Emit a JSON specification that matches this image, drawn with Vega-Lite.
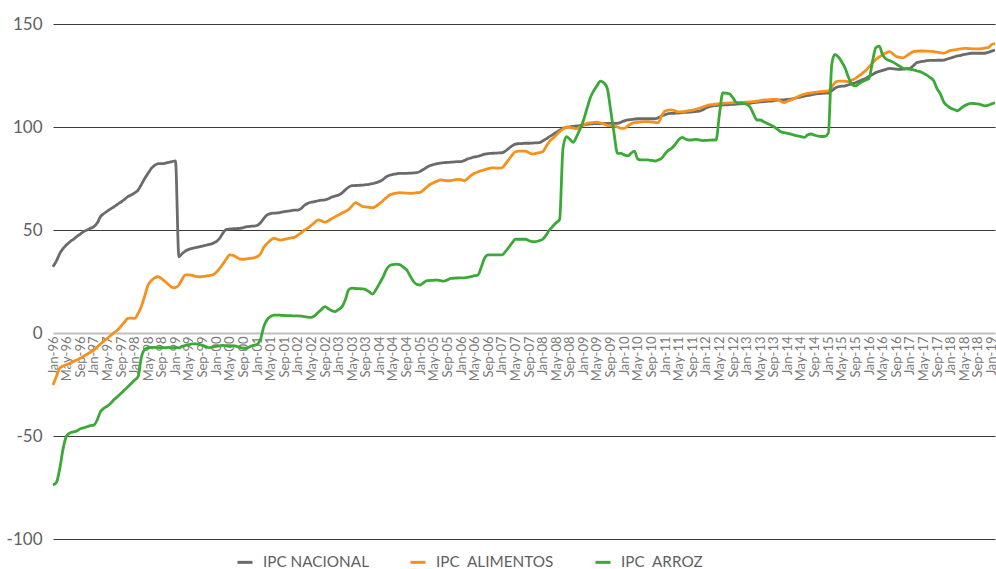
{
"$schema": "https://vega.github.io/schema/vega-lite/v6.json",
"width": 942, "height": 515,
"autosize": {"type": "none"},
"padding": {"left": 53, "top": 24, "right": 1, "bottom": 30},
"background": "white",
"config": {"view": {"stroke": null}, "font": "Lato"},
"datasets": {"ipc": [
{"d":"1996-01","n":32.2,"a":-25.2,"r":-73.8},{"d":"1996-02","n":35,"a":-21,"r":-72.5},{"d":"1996-03","n":38.5,"a":-17.1,"r":-66},{"d":"1996-04","n":41.1,"a":-16,"r":-56},{"d":"1996-05","n":42.8,"a":-15.3,"r":-50},{"d":"1996-06","n":44.3,"a":-14.7,"r":-48.5},{"d":"1996-07","n":45.5,"a":-13.9,"r":-48},{"d":"1996-08","n":46.8,"a":-13.1,"r":-47.5},{"d":"1996-09","n":48,"a":-12.3,"r":-46.5},{"d":"1996-10","n":49.2,"a":-11.3,"r":-46},{"d":"1996-11","n":50,"a":-10.3,"r":-45.5},{"d":"1996-12","n":50.8,"a":-9.3,"r":-45},
{"d":"1997-01","n":51.6,"a":-8.3,"r":-44.7},{"d":"1997-02","n":53.5,"a":-6.8,"r":-42},{"d":"1997-03","n":56.5,"a":-5.3,"r":-38.2},{"d":"1997-04","n":58,"a":-3.9,"r":-36.5},{"d":"1997-05","n":59.2,"a":-2.6,"r":-35.5},{"d":"1997-06","n":60.3,"a":-1.2,"r":-34.1},{"d":"1997-07","n":61.3,"a":0.2,"r":-32.3},{"d":"1997-08","n":62.5,"a":1.5,"r":-30.9},{"d":"1997-09","n":63.6,"a":3.3,"r":-29.3},{"d":"1997-10","n":64.8,"a":5.2,"r":-27.7},{"d":"1997-11","n":66.2,"a":7.1,"r":-26.1},{"d":"1997-12","n":67,"a":7.2,"r":-24.5},
{"d":"1998-01","n":68,"a":7.1,"r":-22.8},{"d":"1998-02","n":69.4,"a":9.5,"r":-21.2},{"d":"1998-03","n":72,"a":12.8,"r":-12},{"d":"1998-04","n":75,"a":18,"r":-8},{"d":"1998-05","n":77.5,"a":23.3,"r":-7.2},{"d":"1998-06","n":80,"a":25.5,"r":-7},{"d":"1998-07","n":81.5,"a":26.8,"r":-7},{"d":"1998-08","n":82.2,"a":27.3,"r":-7.1},{"d":"1998-09","n":82.2,"a":26.3,"r":-7.2},{"d":"1998-10","n":82.4,"a":25,"r":-7.1},{"d":"1998-11","n":82.8,"a":23.5,"r":-7},{"d":"1998-12","n":83.2,"a":22.2,"r":-7.2},
{"d":"1999-01","n":83.6,"a":22,"r":-7.1},{"d":"1999-02","n":37,"a":23.3,"r":-7.2},{"d":"1999-03","n":38.5,"a":26,"r":-6.5},{"d":"1999-04","n":39.8,"a":28.2,"r":-6},{"d":"1999-05","n":40.6,"a":28.2,"r":-5.6},{"d":"1999-06","n":41.1,"a":28,"r":-5.3},{"d":"1999-07","n":41.4,"a":27.5,"r":-5.3},{"d":"1999-08","n":41.8,"a":27.3,"r":-5.5},{"d":"1999-09","n":42.2,"a":27.4,"r":-6},{"d":"1999-10","n":42.6,"a":27.6,"r":-6.6},{"d":"1999-11","n":43,"a":27.9,"r":-7.1},{"d":"1999-12","n":43.5,"a":28.2,"r":-6.8},
{"d":"2000-01","n":44.3,"a":29.5,"r":-6.5},{"d":"2000-02","n":46,"a":31.4,"r":-6.2},{"d":"2000-03","n":48.5,"a":33.5,"r":-6},{"d":"2000-04","n":50.3,"a":36,"r":-6.3},{"d":"2000-05","n":50.5,"a":37.9,"r":-6.6},{"d":"2000-06","n":50.6,"a":37.7,"r":-6.2},{"d":"2000-07","n":50.7,"a":36.8,"r":-6.5},{"d":"2000-08","n":50.8,"a":35.9,"r":-7},{"d":"2000-09","n":51.2,"a":35.8,"r":-7.4},{"d":"2000-10","n":51.6,"a":36,"r":-7.4},{"d":"2000-11","n":51.8,"a":36.2,"r":-6.5},{"d":"2000-12","n":51.9,"a":36.5,"r":-6},
{"d":"2001-01","n":52.2,"a":37,"r":-5.5},{"d":"2001-02","n":53.5,"a":38.5,"r":-3},{"d":"2001-03","n":55.5,"a":41.5,"r":3},{"d":"2001-04","n":57.3,"a":43.5,"r":6.5},{"d":"2001-05","n":58,"a":45,"r":8},{"d":"2001-06","n":58.2,"a":46,"r":8.7},{"d":"2001-07","n":58.3,"a":45.5,"r":8.7},{"d":"2001-08","n":58.6,"a":45.1,"r":8.6},{"d":"2001-09","n":58.9,"a":45.4,"r":8.5},{"d":"2001-10","n":59.2,"a":45.8,"r":8.4},{"d":"2001-11","n":59.4,"a":46.2,"r":8.4},{"d":"2001-12","n":59.6,"a":46.4,"r":8.3},
{"d":"2002-01","n":59.7,"a":47.5,"r":8.3},{"d":"2002-02","n":60.5,"a":48.7,"r":8.2},{"d":"2002-03","n":62,"a":50,"r":8},{"d":"2002-04","n":63,"a":51,"r":7.7},{"d":"2002-05","n":63.5,"a":52.3,"r":7.6},{"d":"2002-06","n":63.8,"a":53.7,"r":8.4},{"d":"2002-07","n":64.2,"a":54.9,"r":10},{"d":"2002-08","n":64.5,"a":54.4,"r":11.5},{"d":"2002-09","n":64.6,"a":53.8,"r":12.8},{"d":"2002-10","n":65.2,"a":54.5,"r":11.8},{"d":"2002-11","n":66,"a":55.5,"r":10.8},{"d":"2002-12","n":66.5,"a":56.5,"r":10.4},
{"d":"2003-01","n":67,"a":57.3,"r":11.5},{"d":"2003-02","n":68,"a":58.2,"r":12.8},{"d":"2003-03","n":69.5,"a":59,"r":16},{"d":"2003-04","n":70.8,"a":60,"r":21},{"d":"2003-05","n":71.5,"a":61.7,"r":21.8},{"d":"2003-06","n":71.6,"a":63.3,"r":21.6},{"d":"2003-07","n":71.7,"a":62.5,"r":21.5},{"d":"2003-08","n":71.8,"a":61.5,"r":21.4},{"d":"2003-09","n":72,"a":61.2,"r":21},{"d":"2003-10","n":72.2,"a":61,"r":20},{"d":"2003-11","n":72.5,"a":60.8,"r":18.9},{"d":"2003-12","n":73,"a":61.5,"r":21},
{"d":"2004-01","n":73.5,"a":62.8,"r":24},{"d":"2004-02","n":74.5,"a":64.2,"r":27},{"d":"2004-03","n":75.8,"a":65.6,"r":30.5},{"d":"2004-04","n":76.6,"a":67,"r":32.7},{"d":"2004-05","n":77,"a":67.5,"r":33.2},{"d":"2004-06","n":77.3,"a":67.9,"r":33.4},{"d":"2004-07","n":77.5,"a":68.1,"r":33.2},{"d":"2004-08","n":77.5,"a":68,"r":32},{"d":"2004-09","n":77.5,"a":67.9,"r":30.6},{"d":"2004-10","n":77.6,"a":67.8,"r":27.8},{"d":"2004-11","n":77.7,"a":67.9,"r":25},{"d":"2004-12","n":77.8,"a":68.1,"r":23.6},
{"d":"2005-01","n":78.5,"a":68.3,"r":23.3},{"d":"2005-02","n":79.5,"a":69.5,"r":24.5},{"d":"2005-03","n":80.5,"a":70.9,"r":25.4},{"d":"2005-04","n":81.3,"a":72.2,"r":25.5},{"d":"2005-05","n":81.8,"a":73,"r":25.6},{"d":"2005-06","n":82.2,"a":73.7,"r":25.7},{"d":"2005-07","n":82.5,"a":74.3,"r":25.4},{"d":"2005-08","n":82.7,"a":74.1,"r":25.2},{"d":"2005-09","n":82.8,"a":73.9,"r":25.8},{"d":"2005-10","n":82.9,"a":74,"r":26.5},{"d":"2005-11","n":83.1,"a":74.3,"r":26.6},{"d":"2005-12","n":83.2,"a":74.6,"r":26.7},
{"d":"2006-01","n":83.2,"a":74.4,"r":26.8},{"d":"2006-02","n":83.8,"a":73.9,"r":26.8},{"d":"2006-03","n":84.5,"a":75,"r":27},{"d":"2006-04","n":85,"a":76.5,"r":27.4},{"d":"2006-05","n":85.5,"a":77.5,"r":27.8},{"d":"2006-06","n":85.8,"a":78.2,"r":28.2},{"d":"2006-07","n":86.3,"a":78.8,"r":32},{"d":"2006-08","n":86.8,"a":79.3,"r":36.5},{"d":"2006-09","n":87.1,"a":79.8,"r":37.9},{"d":"2006-10","n":87.2,"a":80.2,"r":37.9},{"d":"2006-11","n":87.3,"a":80.1,"r":37.9},{"d":"2006-12","n":87.4,"a":80,"r":37.9},
{"d":"2007-01","n":87.5,"a":80.2,"r":37.9},{"d":"2007-02","n":88.3,"a":82,"r":39.5},{"d":"2007-03","n":89.5,"a":84,"r":41.4},{"d":"2007-04","n":90.8,"a":86.2,"r":43.6},{"d":"2007-05","n":91.7,"a":88,"r":45.5},{"d":"2007-06","n":91.9,"a":88.3,"r":45.5},{"d":"2007-07","n":92,"a":88.3,"r":45.5},{"d":"2007-08","n":92.1,"a":88.3,"r":45.5},{"d":"2007-09","n":92.1,"a":87.5,"r":44.8},{"d":"2007-10","n":92.2,"a":86.9,"r":44.3},{"d":"2007-11","n":92.3,"a":87.2,"r":44.4},{"d":"2007-12","n":92.4,"a":87.6,"r":44.8},
{"d":"2008-01","n":93.2,"a":88,"r":45.5},{"d":"2008-02","n":94.2,"a":90.5,"r":47.5},{"d":"2008-03","n":95.3,"a":92.9,"r":50},{"d":"2008-04","n":96.3,"a":94.5,"r":51.8},{"d":"2008-05","n":97.4,"a":96.1,"r":53.5},{"d":"2008-06","n":98.4,"a":97.7,"r":55.2},{"d":"2008-07","n":99.4,"a":99,"r":89.7},{"d":"2008-08","n":99.8,"a":100,"r":95.3},{"d":"2008-09","n":100.1,"a":99.8,"r":94},{"d":"2008-10","n":100.3,"a":99.5,"r":92.5},{"d":"2008-11","n":100.5,"a":99.2,"r":95.5},{"d":"2008-12","n":100.7,"a":100,"r":99},
{"d":"2009-01","n":101,"a":101,"r":103.4},{"d":"2009-02","n":101.3,"a":101.8,"r":109},{"d":"2009-03","n":101.5,"a":102,"r":114},{"d":"2009-04","n":101.6,"a":102.2,"r":117.5},{"d":"2009-05","n":101.7,"a":102.3,"r":120},{"d":"2009-06","n":101.7,"a":102,"r":122.3},{"d":"2009-07","n":101.8,"a":101.5,"r":121.5},{"d":"2009-08","n":101.8,"a":100.8,"r":118.8},{"d":"2009-09","n":101.8,"a":100.6,"r":108},{"d":"2009-10","n":101.8,"a":100.5,"r":97},{"d":"2009-11","n":101.8,"a":100,"r":87.2},{"d":"2009-12","n":102.3,"a":99.4,"r":87.2},
{"d":"2010-01","n":103,"a":99.3,"r":86.5},{"d":"2010-02","n":103.4,"a":100.5,"r":86},{"d":"2010-03","n":103.6,"a":101.5,"r":87.2},{"d":"2010-04","n":103.8,"a":102.1,"r":88.3},{"d":"2010-05","n":104,"a":102.3,"r":84.5},{"d":"2010-06","n":104,"a":102.5,"r":84},{"d":"2010-07","n":104,"a":102.6,"r":84},{"d":"2010-08","n":104,"a":102.6,"r":84},{"d":"2010-09","n":104,"a":102.4,"r":83.8},{"d":"2010-10","n":104,"a":102.2,"r":83.5},{"d":"2010-11","n":104.5,"a":102.1,"r":84},{"d":"2010-12","n":105.3,"a":105.5,"r":84.8},
{"d":"2011-01","n":106,"a":107.8,"r":87},{"d":"2011-02","n":106.5,"a":108.2,"r":88.8},{"d":"2011-03","n":106.6,"a":108.3,"r":89.7},{"d":"2011-04","n":106.7,"a":107.8,"r":91.5},{"d":"2011-05","n":106.8,"a":107.3,"r":93.7},{"d":"2011-06","n":107,"a":107.4,"r":95},{"d":"2011-07","n":107.1,"a":107.6,"r":94.2},{"d":"2011-08","n":107.2,"a":107.9,"r":93.7},{"d":"2011-09","n":107.3,"a":108.2,"r":93.8},{"d":"2011-10","n":107.5,"a":108.6,"r":94},{"d":"2011-11","n":107.7,"a":109.1,"r":93.7},{"d":"2011-12","n":108.3,"a":109.6,"r":93.4},
{"d":"2012-01","n":109.2,"a":110.2,"r":93.5},{"d":"2012-02","n":109.9,"a":110.7,"r":93.6},{"d":"2012-03","n":110.2,"a":110.9,"r":93.7},{"d":"2012-04","n":110.4,"a":111.1,"r":93.7},{"d":"2012-05","n":110.6,"a":111.3,"r":106},{"d":"2012-06","n":110.7,"a":111.5,"r":116.6},{"d":"2012-07","n":110.8,"a":111.6,"r":116.4},{"d":"2012-08","n":110.9,"a":111.7,"r":116},{"d":"2012-09","n":111,"a":111.8,"r":114},{"d":"2012-10","n":111.1,"a":111.8,"r":111.8},{"d":"2012-11","n":111.2,"a":111.9,"r":111.6},{"d":"2012-12","n":111.3,"a":112,"r":111.5},
{"d":"2013-01","n":111.4,"a":112.1,"r":111},{"d":"2013-02","n":111.5,"a":112.2,"r":109.6},{"d":"2013-03","n":111.8,"a":112.3,"r":106.5},{"d":"2013-04","n":112,"a":112.5,"r":103.4},{"d":"2013-05","n":112.2,"a":112.8,"r":103.4},{"d":"2013-06","n":112.3,"a":113.1,"r":102.6},{"d":"2013-07","n":112.5,"a":113.2,"r":101.8},{"d":"2013-08","n":112.6,"a":113.3,"r":101},{"d":"2013-09","n":112.8,"a":113.4,"r":100.1},{"d":"2013-10","n":113,"a":113.4,"r":99},{"d":"2013-11","n":113.1,"a":112.5,"r":97.7},{"d":"2013-12","n":113.2,"a":111.8,"r":97.3},
{"d":"2014-01","n":113.4,"a":112.5,"r":96.9},{"d":"2014-02","n":113.5,"a":113.1,"r":96.5},{"d":"2014-03","n":113.8,"a":113.8,"r":96.1},{"d":"2014-04","n":114.2,"a":114.6,"r":95.7},{"d":"2014-05","n":114.6,"a":115.4,"r":95.3},{"d":"2014-06","n":115,"a":116,"r":95},{"d":"2014-07","n":115.3,"a":116.3,"r":96.2},{"d":"2014-08","n":115.6,"a":116.6,"r":96.6},{"d":"2014-09","n":116,"a":116.8,"r":96},{"d":"2014-10","n":116.2,"a":117.1,"r":95.6},{"d":"2014-11","n":116.3,"a":117.2,"r":95.4},{"d":"2014-12","n":116.4,"a":117.3,"r":95.5},
{"d":"2015-01","n":116.5,"a":117.5,"r":96.9},{"d":"2015-02","n":117.6,"a":119.5,"r":130.5},{"d":"2015-03","n":118.8,"a":121.5,"r":135.2},{"d":"2015-04","n":119.6,"a":122.3,"r":134},{"d":"2015-05","n":119.8,"a":122.3,"r":131.7},{"d":"2015-06","n":120,"a":122.2,"r":128.5},{"d":"2015-07","n":120.5,"a":122,"r":124},{"d":"2015-08","n":121,"a":122.8,"r":120.5},{"d":"2015-09","n":121.5,"a":123.6,"r":120},{"d":"2015-10","n":122.2,"a":124.8,"r":121},{"d":"2015-11","n":122.9,"a":126,"r":122},{"d":"2015-12","n":123.6,"a":127.4,"r":122.8},
{"d":"2016-01","n":124.6,"a":129.2,"r":123.6},{"d":"2016-02","n":125.5,"a":131,"r":132},{"d":"2016-03","n":126.4,"a":132.8,"r":138.5},{"d":"2016-04","n":127,"a":134,"r":139.3},{"d":"2016-05","n":127.5,"a":135,"r":135},{"d":"2016-06","n":128,"a":136,"r":133},{"d":"2016-07","n":128.5,"a":136.6,"r":132.3},{"d":"2016-08","n":128.3,"a":135.5,"r":131.5},{"d":"2016-09","n":128.1,"a":134.2,"r":130.5},{"d":"2016-10","n":128,"a":133.8,"r":129.5},{"d":"2016-11","n":128.1,"a":133.6,"r":128.5},{"d":"2016-12","n":128.3,"a":134.5,"r":128.2},
{"d":"2017-01","n":128.5,"a":135.7,"r":128},{"d":"2017-02","n":129.8,"a":136.6,"r":127.7},{"d":"2017-03","n":131.2,"a":136.8,"r":127.3},{"d":"2017-04","n":131.6,"a":136.9,"r":126.9},{"d":"2017-05","n":131.9,"a":136.9,"r":126.1},{"d":"2017-06","n":132.2,"a":136.8,"r":125.2},{"d":"2017-07","n":132.3,"a":136.7,"r":124},{"d":"2017-08","n":132.3,"a":136.6,"r":122.5},{"d":"2017-09","n":132.4,"a":136.3,"r":118.5},{"d":"2017-10","n":132.4,"a":136,"r":116},{"d":"2017-11","n":132.5,"a":135.8,"r":112},{"d":"2017-12","n":133,"a":136.5,"r":110.3},
{"d":"2018-01","n":133.5,"a":137.2,"r":109.1},{"d":"2018-02","n":134,"a":137.4,"r":108.5},{"d":"2018-03","n":134.5,"a":137.7,"r":107.9},{"d":"2018-04","n":134.8,"a":137.9,"r":109},{"d":"2018-05","n":135.2,"a":138.2,"r":110.2},{"d":"2018-06","n":135.5,"a":138.1,"r":111},{"d":"2018-07","n":135.8,"a":138,"r":111.5},{"d":"2018-08","n":135.8,"a":137.9,"r":111.4},{"d":"2018-09","n":135.8,"a":137.9,"r":111.2},{"d":"2018-10","n":135.8,"a":138,"r":110.8},{"d":"2018-11","n":135.8,"a":138.3,"r":110.3},{"d":"2018-12","n":136.2,"a":138.5,"r":110.5},
{"d":"2019-01","n":136.8,"a":140,"r":111.2},{"d":"2019-02","n":137.4,"a":140.5,"r":111.8}
]},
"data": {"name": "ipc"},
"transform": [{"fold": ["n", "a", "r"], "as": ["s", "v"]}],
"mark": {"type": "line", "strokeWidth": 2.8, "interpolate": "monotone"},
"encoding": {
  "x": {"field": "d", "type": "temporal",
    "scale": {"type": "utc", "domain": [{"year": 1996, "month": 1, "date": 1, "utc": true}, {"year": 2019, "month": 2, "date": 1, "utc": true}]},
    "axis": {"orient": "bottom", "offset": -206, "title": null, "format": "%b-%y", "tickCount": {"interval": "month", "step": 4},
      "labelAngle": -90, "labelFontSize": 13, "labelColor": "#7a7a7a", "labelPadding": 3, "ticks": false,
      "domainColor": "#c0c0c0", "domainWidth": 2, "grid": false, "labelOverlap": false, "labelFlush": false, "labelBound": false}},
  "y": {"field": "v", "type": "quantitative",
    "scale": {"domain": [-100, 150], "nice": false, "zero": false},
    "axis": {"title": null, "values": [-100, -50, 0, 50, 100, 150], "domain": false, "ticks": false,
      "labelFontSize": 17, "labelColor": "#5f5f5f", "labelPadding": 11, "labelExpr": "'' + datum.value",
      "grid": true, "gridColor": {"condition": {"test": "datum.value === 0", "value": "transparent"}, "value": "#3a3a3a"}, "gridWidth": 1}},
  "color": {"field": "s", "type": "nominal",
    "scale": {"domain": ["n", "a", "r"], "range": ["#6b6b6b", "#f5921e", "#3aa936"]},
    "legend": {"orient": "none", "legendX": 183, "legendY": 529, "direction": "horizontal", "title": null,
      "symbolType": "stroke", "symbolSize": 225, "symbolStrokeWidth": 3, "labelFontSize": 15.3, "labelColor": "#5f5f5f",
      "columnPadding": 35, "labelOffset": 9, "labelLimit": 300,
      "labelExpr": "{'n': 'IPC NACIONAL', 'a': 'IPC\u00a0 ALIMENTOS', 'r': 'IPC\u00a0 ARROZ'}[datum.label]"}}
}
}
